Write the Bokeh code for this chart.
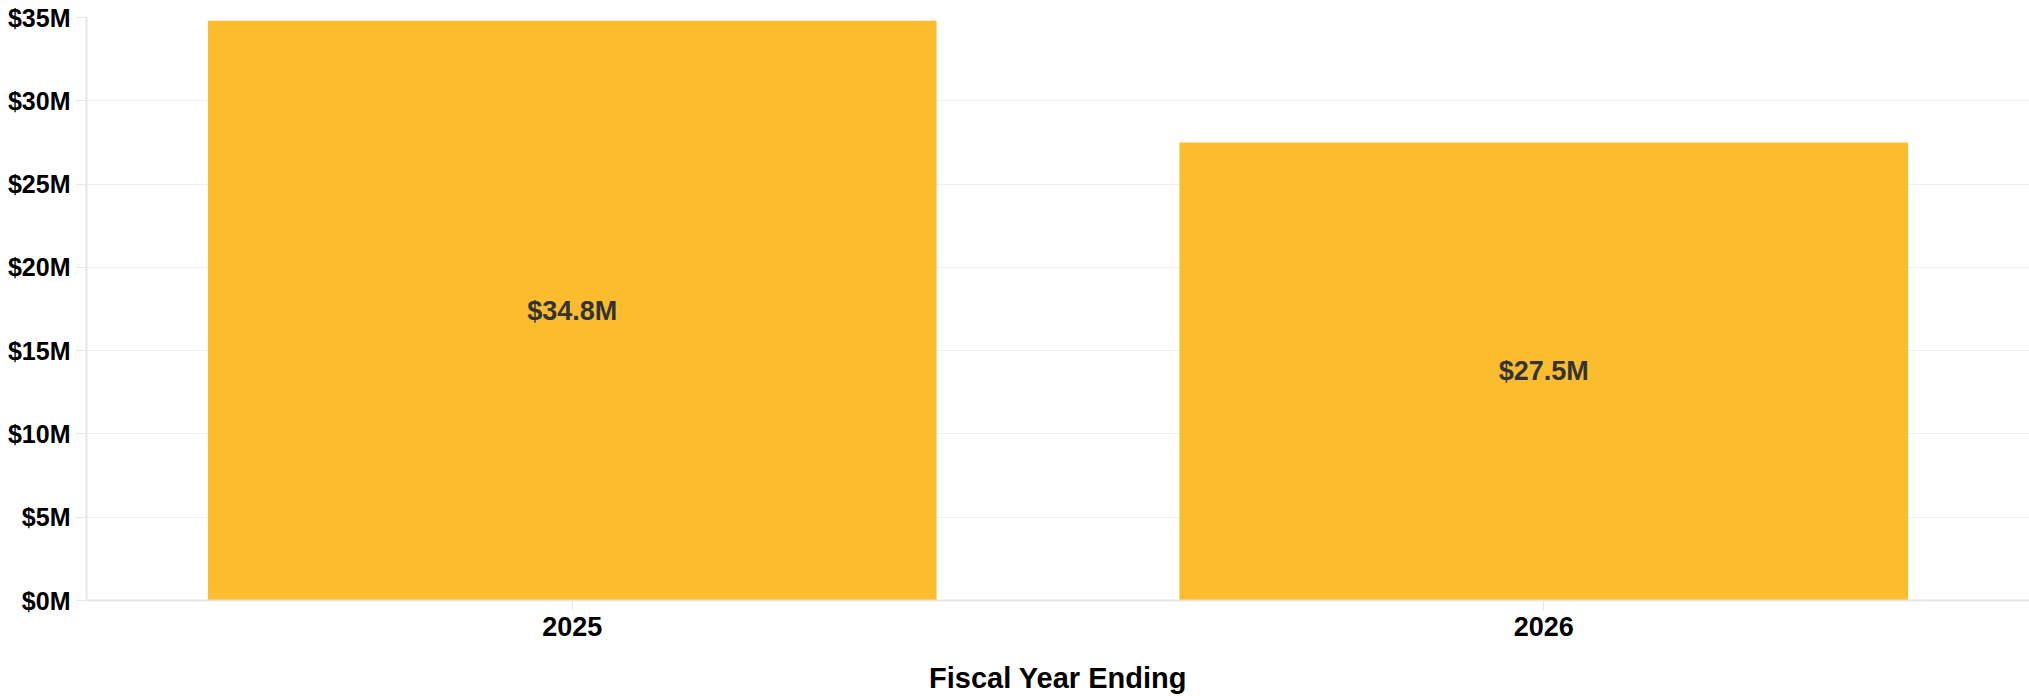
from bokeh.plotting import figure
from bokeh.models import ColumnDataSource, CustomJSTickFormatter, FixedTicker, Range1d
from bokeh.core.properties import value
from bokeh.embed import file_html
from bokeh.resources import INLINE

years = ["2025", "2026"]
amounts = [34.8, 27.5]  # $ millions
labels = ["$34.8M", "$27.5M"]
y_ticks = [0, 5, 10, 15, 20, 25, 30, 35]

src = ColumnDataSource(dict(x=years, top=amounts, mid=[a / 2 for a in amounts], label=labels))

p = figure(x_range=years, y_range=Range1d(0, 35), width=2029, height=696,
           output_backend="svg", toolbar_location=None,
           min_border_left=86, min_border_right=0, min_border_top=17, min_border_bottom=94)
p.outline_line_color = None
p.vbar(x="x", top="top", width=0.75, source=src, color="#FBBD2D", line_color=None)
p.text(x="x", y="mid", text="label", source=src, text_align="center", text_baseline="middle",
       text_font=value("Liberation Sans"), text_font_style="bold", text_font_size="27px",
       text_color="#333333")

p.yaxis.ticker = FixedTicker(ticks=y_ticks)
p.yaxis.formatter = CustomJSTickFormatter(code="return '$' + tick + 'M';")
for ax in (p.xaxis, p.yaxis):
    ax.axis_line_color = "#e6e6e6"
    ax.axis_line_width = 2
    ax.major_label_text_font = "Liberation Sans"
    ax.major_label_text_font_style = "bold"
    ax.major_label_text_color = "#000000"
    ax.minor_tick_line_color = None
    ax.major_tick_line_color = "#e6e6e6"
    ax.major_tick_in = 0
    ax.major_tick_out = 10
p.yaxis.major_label_text_font_size = "25px"
p.xaxis.major_label_text_font_size = "27px"
p.yaxis.major_label_standoff = 6
p.xaxis.major_label_standoff = 6
p.xaxis.axis_label = "Fiscal Year Ending"
p.xaxis.axis_label_text_font = "Liberation Sans"
p.xaxis.axis_label_text_font_style = "bold"
p.xaxis.axis_label_text_font_size = "29px"
p.xaxis.axis_label_text_color = "#000000"
p.xaxis.axis_label_standoff = 23
p.xgrid.grid_line_color = None
p.ygrid.grid_line_color = "#f0f0f0"
p.ygrid.grid_line_width = 1

open("out.html", "w").write(file_html(p, INLINE))
